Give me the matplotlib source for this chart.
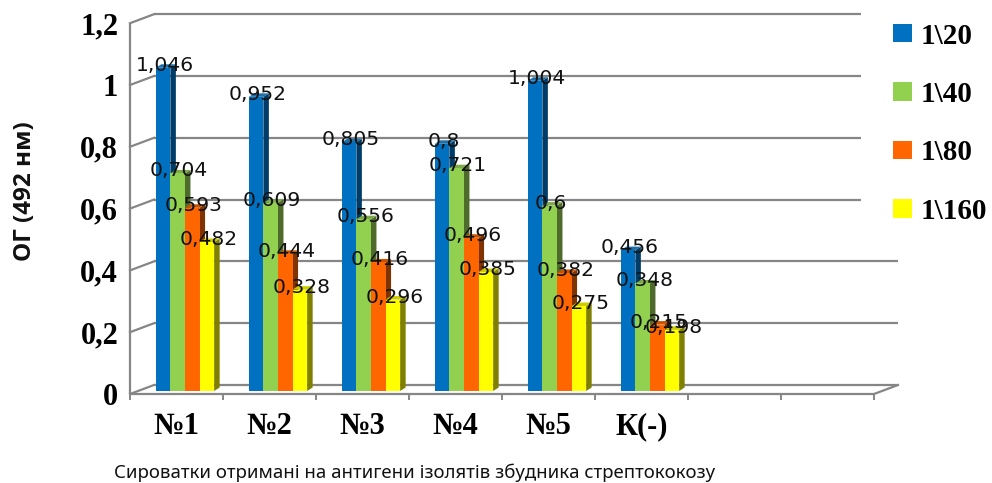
import matplotlib
matplotlib.use("Agg")
import matplotlib.pyplot as plt
from matplotlib.lines import TICKDOWN
from matplotlib.patches import Polygon, Patch
from matplotlib.transforms import Affine2D

categories = ["№1", "№2", "№3", "№4", "№5", "К(-)"]
series_names = ["1\\20", "1\\40", "1\\80", "1\\160"]
s_20 = [1.046, 0.952, 0.805, 0.8, 1.004, 0.456]
s_40 = [0.704, 0.609, 0.556, 0.721, 0.6, 0.348]
s_80 = [0.593, 0.444, 0.416, 0.496, 0.382, 0.215]
s_160 = [0.482, 0.328, 0.296, 0.385, 0.275, 0.198]
y_ticks = [0, 0.2, 0.4, 0.6, 0.8, 1, 1.2]
y_tick_labels = ["0", "0,2", "0,4", "0,6", "0,8", "1", "1,2"]
n_slots = 8

front = ["#0070C0", "#92D050", "#FF6600", "#FFFF00"]
side = ["#003C68", "#4F6B2B", "#7F3300", "#808000"]
top = ["#1E6FA8", "#7FA84A", "#CC5200", "#CCCC00"]
grid = "#868686"

W, H = 992, 483
fig = plt.figure(figsize=(W / 100, H / 100), dpi=100)
L, R, B, PX = 130, 874, 391, 309
ax = fig.add_axes([L / W, (H - B) / H, (R - L) / W, 1.2 * PX / H])
ax.set_xlim(0, n_slots)
ax.set_ylim(0, 1.2)
for s in ax.spines.values():
    s.set_visible(False)

def shift(dx, dy):
    return ax.transData + Affine2D().translate(dx, dy)

line = dict(color=grid, lw=1.6, clip_on=False, solid_capstyle="butt", zorder=1)

def diag(x, v):
    p0 = shift(0, -3).transform((x, v))
    p1 = shift(24, 6).transform((x, v))
    fig.add_artist(plt.Line2D([p0[0] / W, p1[0] / W], [p0[1] / H, p1[1] / H],
                              color=grid, lw=1.6, zorder=1))

# back wall + left wall
for v in y_ticks:
    end = n_slots if v < 0.5 else n_slots - 37 / 93
    ax.plot([0, end], [v, v], transform=shift(24, 6), **line)
    diag(0, v)
# left axis, front floor edge and ticks
ax.plot([0, 0], [0, 1.2], transform=shift(0, -3), **line)
ax.plot([0, n_slots], [0, 0], transform=shift(0, -3), **line)
for i in range(n_slots + 1):
    ax.plot([i], [0], transform=shift(0, -3), marker=TICKDOWN, ms=4.5, mew=1.4,
            color=grid, clip_on=False, zorder=1)
diag(n_slots, 0)
ax.set_xlim(0, n_slots)
ax.set_ylim(0, 1.2)

# bars
bw = 14.6 / 93
dx, dy = 5.5, 3.5
all_series = [s_20, s_40, s_80, s_160]
handles = []
for j, vals in enumerate(all_series):
    for i, v in enumerate(vals):
        xc = i + 0.591 + (j - 1.5) * bw
        z = 3 + j * 0.1 + i
        ax.bar(xc, v, width=bw, color=front[j], lw=0, zorder=z + 0.02, clip_on=False)
        x0 = ax.transData.transform((xc - bw / 2, 0))[0]
        x1 = ax.transData.transform((xc + bw / 2, 0))[0]
        yb, yt = ax.transData.transform((0, 0))[1], ax.transData.transform((0, v))[1]
        ax.add_patch(Polygon([(x1, yb), (x1 + dx, yb + dy), (x1 + dx, yt + dy), (x1, yt)],
                             closed=True, fc=side[j], ec="none", transform=None, zorder=z, clip_on=False))
        ax.add_patch(Polygon([(x0, yt), (x1, yt), (x1 + dx, yt + dy), (x0 + dx, yt + dy)],
                             closed=True, fc=top[j], ec="none", transform=None, zorder=z, clip_on=False))
    handles.append(Patch(fc=front[j], ec="none"))

# value labels
for j, vals in enumerate(all_series):
    for i, v in enumerate(vals):
        xc = i + 0.591 + (j - 1.5) * bw
        ax.annotate(str(v).replace(".", ","), (xc, v), xytext=(1.5, 2.5), textcoords="offset pixels",
                    ha="center", va="center", fontsize=14.6, family="DejaVu Sans",
                    color="#111111", zorder=50, annotation_clip=False)

# tick labels
ax.set_yticks(y_ticks, y_tick_labels, family="Liberation Serif", weight="bold", fontsize=22)
ax.set_xticks([i + 0.5 for i in range(len(categories))], categories,
              family="Liberation Serif", weight="bold", fontsize=22)
ax.tick_params(axis="both", length=0)
ax.tick_params(axis="y", pad=8.5)
ax.tick_params(axis="x", pad=15)
for lab in ax.get_yticklabels():
    lab.set_transform(lab.get_transform() + Affine2D().translate(0, -3))

fig.text(25 / W, 1 - 191 / H, "ОГ (492 нм)", rotation=90, ha="center", va="center",
         family="Open Sans", weight="bold", fontsize=17.5, color="#111111")
fig.text(415 / W, 1 - 473 / H, "Сироватки отримані на антигени ізолятів збудника стрептококозу",
         ha="center", va="center", family="Noto Sans", fontsize=13.4, color="#111111")

leg = ax.legend(handles, series_names, loc="upper left", bbox_to_anchor=(893 / W, 1 - 22.5 / H),
                bbox_transform=fig.transFigure, frameon=False, ncols=1,
                prop=dict(family="Liberation Serif", weight="bold", size=21),
                handlelength=0.66, handleheight=0.6, handletextpad=0.3, labelspacing=1.08,
                borderpad=0, borderaxespad=0)

fig.savefig("out.png", dpi=100)
